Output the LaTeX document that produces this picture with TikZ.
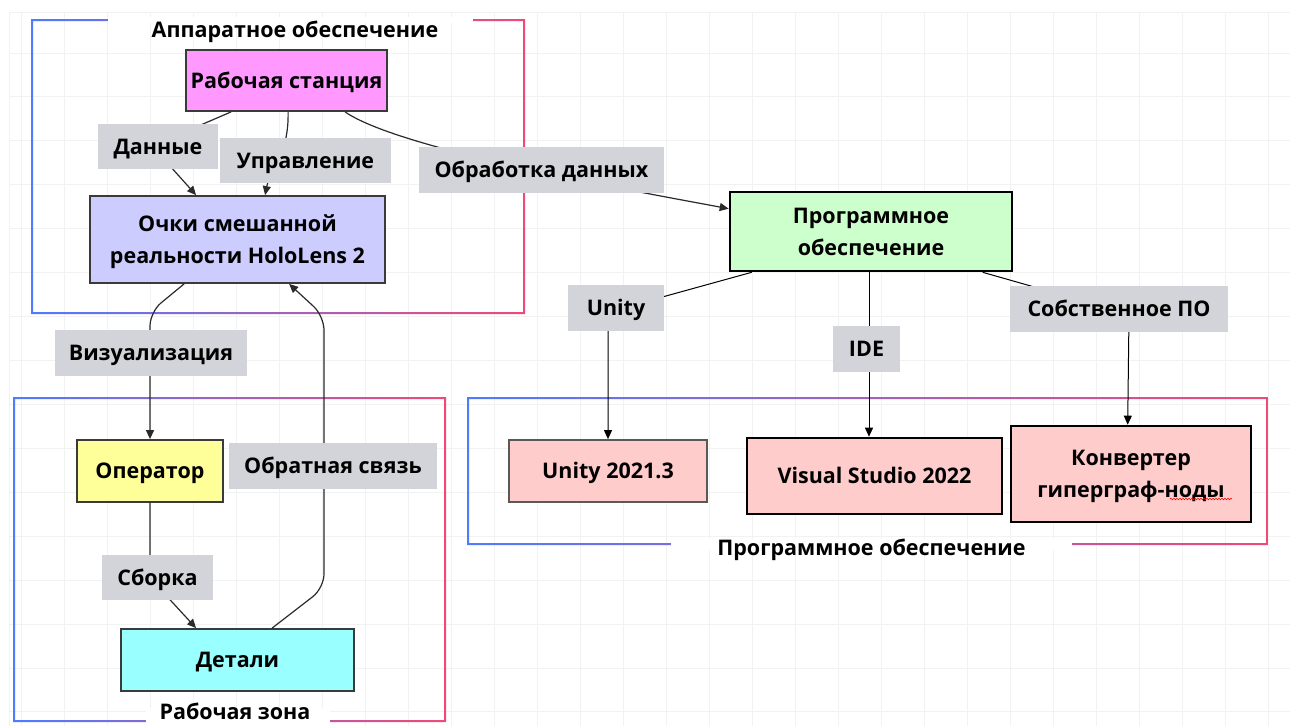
\documentclass[tikz,border=0pt]{standalone}
\usepackage{fontspec}
\setmainfont{Open Sans}
\usetikzlibrary{arrows.meta,calc,decorations.pathmorphing}
\definecolor{gridc}{HTML}{F2F2F2}
\definecolor{frblue}{HTML}{4F7BFF}
\definecolor{frpink}{HTML}{EF4A78}
\definecolor{lblgray}{HTML}{D3D4D9}
\definecolor{boxline}{HTML}{3A3A3A}
\definecolor{edgec}{HTML}{2A2A2A}
\definecolor{cstation}{HTML}{FF99FF}
\definecolor{cglass}{HTML}{CCCCFF}
\definecolor{coper}{HTML}{FFFF99}
\definecolor{cdet}{HTML}{99FFFF}
\definecolor{cprog}{HTML}{CCFFCC}
\definecolor{cpink}{HTML}{FFCCCC}
\newcommand{\twolines}[2]{\raisebox{0pt}[15.4pt][32pt]{\begin{tabular}[t]{@{}c@{}}#1\\#2\end{tabular}}}
\tikzset{
  txt/.style={font=\bfseries\fontsize{21.5}{32}\selectfont, align=center},
  one/.style={text height=15.4pt, text depth=0pt},
  gbox/.style={txt, draw=boxline, line width=1.8pt, inner sep=0pt},
  kbox/.style={txt, draw=black, line width=2.6pt, inner sep=0pt},
  lbl/.style={txt, one, fill=lblgray, inner sep=0pt},
  ttl/.style={txt, one, inner sep=0pt},
  edge/.style={draw=edgec, line width=1.2pt, -{Triangle[length=9pt,width=8pt]}},
  edgek/.style={draw=black, line width=1pt, -{Triangle[length=9pt,width=8pt]}},
}
\begin{document}
\begin{tikzpicture}[x=1pt,y=-1pt]
\useasboundingbox (0,0) rectangle (1290,726);
\fill[white] (0,0) rectangle (1290,726);
% grid
\foreach \gx in {21,64,...,1290} \draw[gridc, line width=1pt] (\gx,12) -- (\gx,726);
\foreach \gy in {53,96.93,...,726} \draw[gridc, line width=1pt] (9,\gy) -- (1290,\gy);
\draw[gridc, line width=1pt] (9,726) -- (9,12) -- (1290,12);
% frames
\shade[left color=frblue, right color=frpink, even odd rule]
  (31,19) rectangle (525,314) (33,21) rectangle (523,312);
\fill[white] (108,17) rectangle (473,23);
\shade[left color=frblue, right color=frpink, even odd rule]
  (13,397) rectangle (446,722) (15,399) rectangle (444,720);
\fill[white] (146,708) rectangle (330,726);
\shade[left color=frblue, right color=frpink, even odd rule]
  (467,397) rectangle (1268,545) (469,399) rectangle (1266,543);
\fill[white] (671,539) rectangle (1072,550);
\node[ttl] (t1) at (295,30) {Аппаратное обеспечение};
\node[ttl] (t2) at (235,712) {Рабочая зона};
\node[ttl] (t3) at (871.5,548) {Программное обеспечение};
% boxes
\node[gbox, one, fill=cstation, minimum width=201pt, minimum height=61pt] (ws) at (286.5,80.5) {Рабочая станция};
\node[gbox, fill=cglass, minimum width=295pt, minimum height=87pt] (gl) at (237.5,239.5) {\twolines{Очки смешанной}{реальности HoloLens 2}};
\node[gbox, one, fill=coper, minimum width=146pt, minimum height=62pt] (op) at (150,471) {Оператор};
\node[gbox, one, fill=cdet, minimum width=233pt, minimum height=62pt] (dt) at (237.5,660) {Детали};
\node[kbox, fill=cprog, minimum width=282pt, minimum height=79pt] (pr) at (871,231.5) {\twolines{Программное}{обеспечение}};
\node[gbox, one, draw=black!65, fill=cpink, minimum width=198pt, minimum height=62pt] (un) at (608,471) {Unity 2021.3};
\node[kbox, one, fill=cpink, minimum width=255pt, minimum height=76pt] (vs) at (874.5,476) {Visual Studio 2022};
\node[kbox, fill=cpink, minimum width=240pt, minimum height=96pt] (kv) at (1131,474) {\twolines{Конвертер}{гиперграф-ноды}};
\draw[red, line width=0.6pt, decorate, decoration={snake, amplitude=0.8pt, segment length=3pt}] (1170,499) -- (1232,499);
% edges
\draw[edge, rounded corners=20pt] ([xshift=46pt]ws.south west) -- (152,146) -- ([xshift=107pt]gl.north west);
\draw[edge] ([xshift=103pt]ws.south west) .. controls (289,155) and (270,170) .. ([xshift=176pt]gl.north west);
\draw[edge] ([xshift=160pt]ws.south west) .. controls (400,150) and (640,192) .. ([yshift=-18pt]pr.north west);
\draw[edge, rounded corners=14pt] ([xshift=95pt]gl.south west) -- (150,312) -- (op.north);
\draw[edge, rounded corners=10pt] (op.south) -- (150,578) -- ([xshift=76pt]dt.north west);
\draw[edge, rounded corners=14pt] ([xshift=152pt]dt.north west) -- (324,588) -- (324,316) -- ([xshift=200pt]gl.south west);
\draw[edgek] ([xshift=23pt]pr.south west) -- (608,312) -- (un.north);
\draw[edgek] ([xshift=-2pt]pr.south) -- ([xshift=-2pt]pr.south |- vs.north);
\draw[edgek] ([xshift=254pt]pr.south west) -- (1129,314) -- ([xshift=118pt]kv.north west);
% labels
\node[lbl, minimum width=120pt, minimum height=45pt] (lD) at (158,146.5) {Данные};
\node[lbl, minimum width=171pt, minimum height=45pt] (lU) at (305.5,160.5) {Управление};
\node[lbl, minimum width=245pt, minimum height=46pt] (lO) at (541.5,170) {Обработка данных};
\node[lbl, minimum width=192pt, minimum height=46pt] (lV) at (151,353) {Визуализация};
\node[lbl, minimum width=208pt, minimum height=46pt] (lB) at (333,466) {Обратная связь};
\node[lbl, minimum width=111pt, minimum height=45pt] (lS) at (157.5,577.5) {Сборка};
\node[lbl, minimum width=96pt, minimum height=46pt] (lUn) at (616,308) {Unity};
\node[lbl, minimum width=67pt, minimum height=46pt] (lI) at (866.5,349) {IDE};
\node[lbl, minimum width=218pt, minimum height=46pt] (lC) at (1119,309) {Собственное ПО};
\end{tikzpicture}
\end{document}
